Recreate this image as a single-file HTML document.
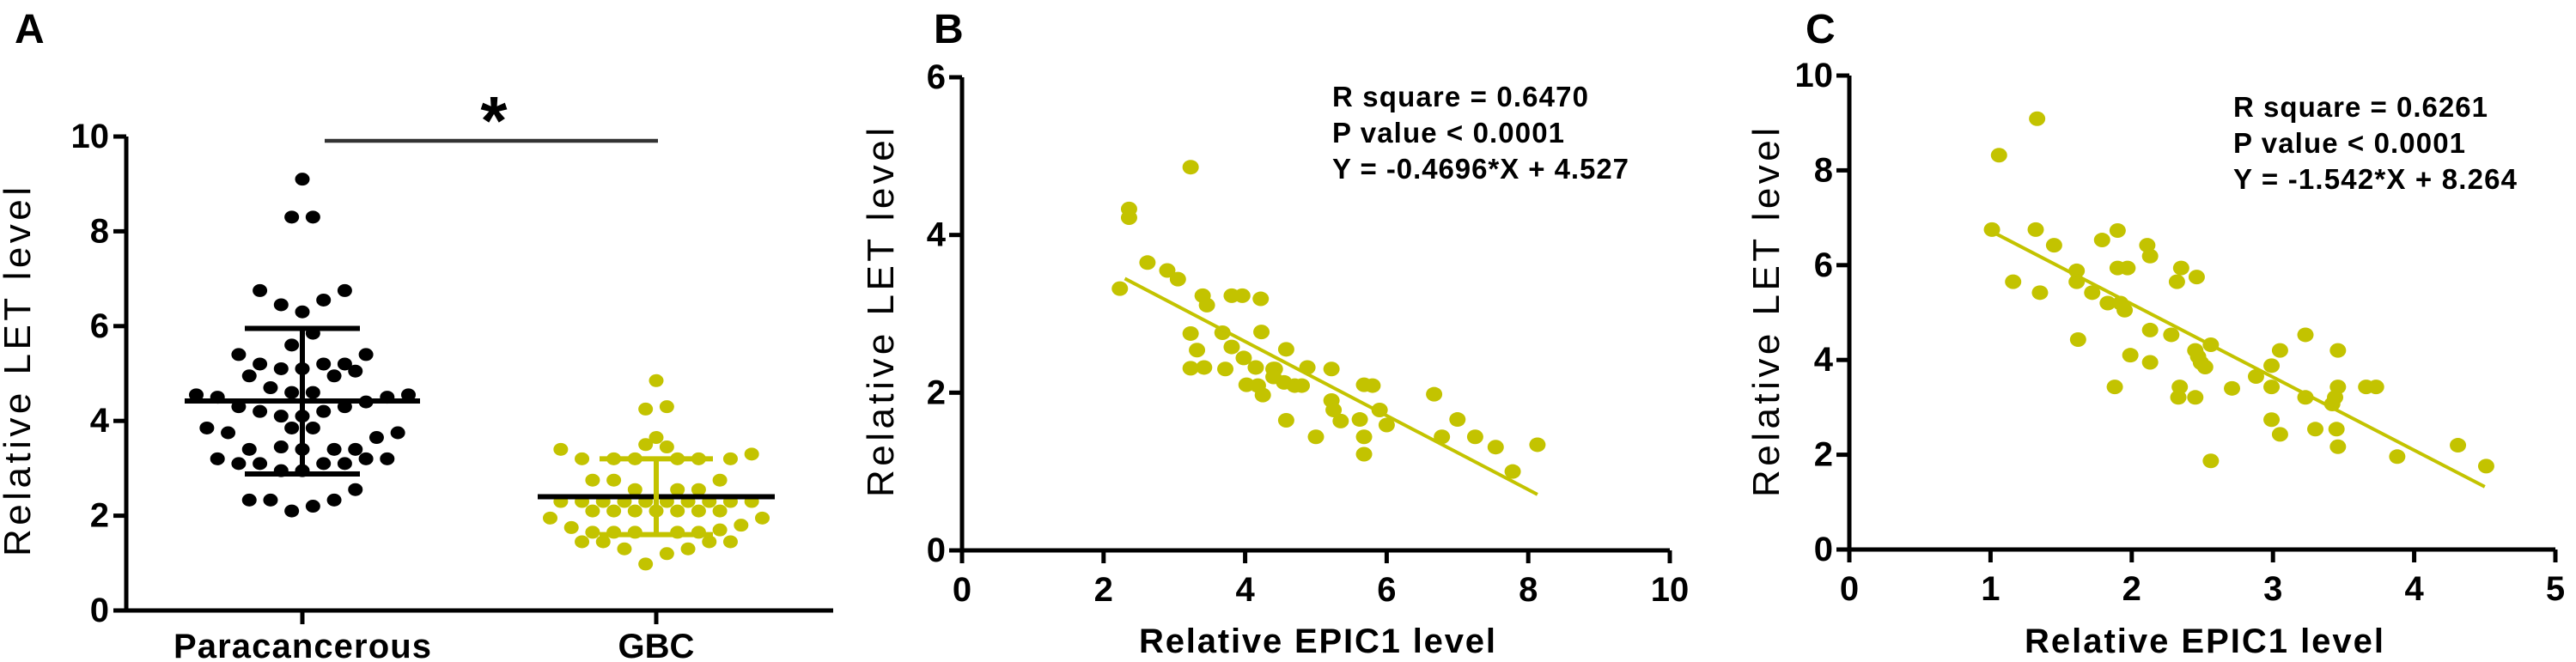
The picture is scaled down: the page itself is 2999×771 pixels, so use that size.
<!DOCTYPE html>
<html><head><meta charset="utf-8"><style>
html,body{margin:0;padding:0;background:#fff;}
svg{display:block;font-family:"Liberation Sans",Arial,sans-serif;}
</style></head><body>
<svg id="fig" width="2999" height="771" viewBox="0 0 2999 771" xmlns="http://www.w3.org/2000/svg"></svg>
<script>
// ---------- Panel A data ----------
const catsA = ["Paracancerous", "GBC"];
const paraVals = [9.1,8.3,8.3,6.75,6.75,6.45,6.55,6.3,5.85,5.6,5.4,5.4,5.2,5.1,5.1,5.2,5.2,4.95,4.95,5.05,4.7,4.6,4.6,4.55,4.5,4.5,4.55,4.3,4.2,4.1,4.1,4.2,4.3,4.4,3.85,3.75,3.85,3.85,3.65,3.75,3.4,3.45,3.4,3.4,3.4,3.2,3.1,3.1,2.95,2.95,3.1,3.1,3.2,3.2,2.55,2.33,2.33,2.33,2.2,2.1];
const paraJit = [0,-0.5,0.5,-2,2,-1,1,0,0.5,-0.5,-3,3,-2,-1,0,1,2,-2.5,1.5,2.5,-1.5,-0.5,0.5,-5,-4,4,5,-3,-2,-1,0,1,2,3,-4.5,-3.5,-0.5,0.5,3.5,4.5,-2.5,-1,0,1.5,2.5,-4,-3,-2,-1,0,1,2,3,4,2.5,-2.5,-1.5,1.5,0.5,-0.5];
const gbcVals = [4.85,4.25,4.3,3.65,3.5,3.45,3.4,3.3,3.2,3.2,3.2,3.2,3.2,3.2,2.75,2.75,2.75,2.55,2.55,2.55,2.3,2.3,2.3,2.3,2.3,2.3,2.3,2.3,2.3,2.3,1.95,1.95,2.1,2.1,2.1,2.1,2.1,2.1,2.1,1.75,1.8,1.65,1.65,1.65,1.65,1.65,1.7,1.45,1.45,1.45,1.45,1.3,1.3,1.2,0.98];
const gbcJit = [0,-0.5,0.5,0,-0.5,0.5,-4.5,4.5,-3.5,-2,-1,1,2,3.5,-3,-2,3,-1,1,2,-4.5,-3.5,-2.5,-1.5,-0.5,0.5,1.5,2.5,3.5,4.5,-5,5,-3,-2,-1,0,1,2,3,-4,4,-3,-2,-1,1,2,3,-3.5,-2.5,2.5,3.5,-1.5,1.5,0.5,-0.5];
const meanA = [4.42, 2.4];
const sdHiA = [5.95, 3.2];
const sdLoA = [2.88, 1.6];
const yTicksA = [0,2,4,6,8,10];

// ---------- Panel B data ----------
const bx = [2.23,2.36,2.36,2.62,2.9,3.05,3.23,3.4,3.46,3.23,3.32,3.23,3.42,3.68,3.81,3.72,3.81,3.96,4.22,3.98,4.02,4.15,4.23,4.18,4.25,4.4,4.42,4.4,4.58,4.55,4.7,4.8,4.58,4.88,5.0,5.22,5.22,5.25,5.35,5.62,5.68,5.8,5.68,5.68,5.9,6.0,6.67,6.78,7.0,7.25,7.54,7.78,8.13];
const by = [3.32,4.33,4.22,3.65,3.55,3.44,4.86,3.23,3.11,2.75,2.54,2.31,2.32,2.76,2.58,2.3,3.23,3.23,3.19,2.44,2.1,2.32,2.77,2.09,1.97,2.3,2.3,2.2,2.55,2.13,2.09,2.09,1.65,2.32,1.44,2.3,1.9,1.78,1.64,1.66,2.1,2.09,1.44,1.22,1.78,1.59,1.98,1.44,1.66,1.44,1.31,1.0,1.34];
const fitB = [-0.4696, 4.527];
const fitBRange = [2.3, 8.13];
const xTicksB = [0,2,4,6,8,10];
const yTicksB = [0,2,4,6];
const statsB = ["R square = 0.6470","P value < 0.0001","Y = -0.4696*X + 4.527"];

// ---------- Panel C data ----------
const cx = [1.01,1.06,1.16,1.33,1.32,1.35,1.45,1.62,1.61,1.61,1.72,1.79,1.83,1.92,1.88,1.9,1.9,1.97,1.95,1.99,2.11,2.13,2.13,2.13,2.28,2.32,2.35,2.34,2.33,2.46,2.45,2.47,2.49,2.52,2.45,2.56,2.56,2.71,2.88,2.99,2.99,2.99,3.05,3.05,3.23,3.23,3.3,3.46,3.46,3.44,3.42,3.45,3.46,3.66,3.73,3.88,4.31,4.51];
const cy = [6.75,8.32,5.65,9.09,6.75,5.42,6.42,4.43,5.88,5.65,5.42,6.53,5.2,5.2,3.43,6.73,5.94,5.94,5.05,4.1,6.42,6.19,4.63,3.95,4.53,5.65,5.94,3.43,3.21,5.75,4.2,4.07,3.94,3.85,3.21,4.32,1.87,3.4,3.65,3.88,3.43,2.74,4.2,2.43,4.53,3.21,2.54,4.2,3.43,3.21,3.07,2.54,2.17,3.43,3.43,1.96,2.2,1.76];
const fitC = [-1.542, 8.264];
const fitCRange = [1.0, 4.5];
const xTicksC = [0,1,2,3,4,5];
const yTicksC = [0,2,4,6,8,10];
const statsC = ["R square = 0.6261","P value < 0.0001","Y = -1.542*X + 8.264"];

const NS = "http://www.w3.org/2000/svg";
const svg = document.getElementById("fig");
function el(tag, attrs, parent, txt){
  const e = document.createElementNS(NS, tag);
  for (const k in attrs) e.setAttribute(k, attrs[k]);
  if (txt !== undefined) e.textContent = txt;
  (parent || svg).appendChild(e);
  return e;
}
const YEL = "#c3c300";
function lin(d0,d1,r0,r1){ return v => r0 + (v-d0)/(d1-d0)*(r1-r0); }

// ===== Panel A =====
const gA = el("g", {});


const yA = lin(0,10,711,159);
const xA = i => [352,764][i];
const jitA = 24.7;
let t;
t = el("text",{x:17,y:50,"font-size":48,"font-weight":"bold"},gA,"A");


let ax = el("line",{x1:147,y1:159,x2:147,y2:711,stroke:"#000","stroke-width":5},gA);


ax = el("line",{x1:145,y1:711,x2:970,y2:711,stroke:"#000","stroke-width":5},gA);


yTicksA.forEach(v=>{
  const tk = el("line",{x1:132,y1:yA(v),x2:147,y2:yA(v),stroke:"#000","stroke-width":5},gA);
  
  
  const tl = el("text",{x:127,y:yA(v),"font-size":40,"font-weight":"bold","text-anchor":"end","dominant-baseline":"central"},gA,String(v));
  
  
});
catsA.forEach((c,i)=>{
  const tk = el("line",{x1:xA(i),y1:711,x2:xA(i),y2:727,stroke:"#000","stroke-width":5},gA);
  
  
  const tl = el("text",{x:xA(i),y:766,"font-size":40,"font-weight":"bold","text-anchor":"middle"},gA,c);
  
  
  if(i===0) tl.setAttribute("textLength",300);
});
t = el("text",{transform:"translate(35,433) rotate(-90)","font-size":44,"text-anchor":"middle",textLength:430},gA,"Relative LET level");


[[paraVals,paraJit,"#000"],[gbcVals,gbcJit,YEL]].forEach((s,i)=>{
  s[0].forEach((v,j)=>{
    const d = el("ellipse",{cx:xA(i)+s[1][j]*jitA,cy:yA(v),rx:8.5,ry:7.5,fill:s[2]},gA);
    
    
  });
});
catsA.forEach((c,i)=>{
  const half = [137,138][i], cap=[67,66][i];
  const m = el("line",{x1:xA(i)-half,y1:yA(meanA[i]),x2:xA(i)+half,y2:yA(meanA[i]),stroke:"#000","stroke-width":6},gA);
  
  
  const col = i===0?"#000":YEL;
  const v = el("line",{x1:xA(i),y1:yA(sdHiA[i]),x2:xA(i),y2:yA(sdLoA[i]),stroke:col,"stroke-width":6},gA);
  
  
  [sdHiA[i],sdLoA[i]].forEach(sv=>{
    const cp = el("line",{x1:xA(i)-cap,y1:yA(sv),x2:xA(i)+cap,y2:yA(sv),stroke:col,"stroke-width":6},gA);
    
    
  });
});
t = el("line",{x1:378,y1:164,x2:766,y2:164,stroke:"#333","stroke-width":4.5},gA);


t = el("text",{x:575,y:168,"font-size":80,"font-weight":"bold","text-anchor":"middle"},gA,"*");



// ===== Scatter panels =====
function scatter(cfg){
  const g = el("g",{});
  
  
  const X = lin(cfg.xd[0],cfg.xd[1],cfg.x0,cfg.x1);
  const Y = lin(cfg.yd[0],cfg.yd[1],cfg.y0,cfg.y1);
  let e = el("text",{x:cfg.labX,y:50,"font-size":48,"font-weight":"bold"},g,cfg.letter);
  
  
  e = el("line",{x1:cfg.x0,y1:cfg.y1,x2:cfg.x0,y2:cfg.y0+2,stroke:"#000","stroke-width":5},g);
  
  
  e = el("line",{x1:cfg.x0-2,y1:cfg.y0,x2:cfg.x1,y2:cfg.y0,stroke:"#000","stroke-width":5},g);
  
  
  cfg.yt.forEach(v=>{
    const tk = el("line",{x1:cfg.x0-15,y1:Y(v),x2:cfg.x0,y2:Y(v),stroke:"#000","stroke-width":5},g);
    
    
    const tl = el("text",{x:cfg.x0-19,y:Y(v),"font-size":40,"font-weight":"bold","text-anchor":"end","dominant-baseline":"central"},g,String(v));
    
    
  });
  cfg.xt.forEach(v=>{
    const tk = el("line",{x1:X(v),y1:cfg.y0,x2:X(v),y2:cfg.y0+15,stroke:"#000","stroke-width":5},g);
    
    
    const tl = el("text",{x:X(v),y:cfg.y0+59,"font-size":40,"font-weight":"bold","text-anchor":"middle"},g,String(v));
    
    
  });
  e = el("text",{x:cfg.xtX,y:760,"font-size":40,"font-weight":"bold",textLength:cfg.xtW},g,"Relative EPIC1 level");
  
  
  e = el("text",{transform:`translate(${cfg.ytX},364) rotate(-90)`,"font-size":44,"text-anchor":"middle",textLength:430},g,"Relative LET level");
  
  
  cfg.px.forEach((xv,i)=>{
    const d = el("ellipse",{cx:X(xv),cy:Y(cfg.py[i]),rx:9.5,ry:8.5,fill:YEL},g);
    
    
  });
  const f = x => cfg.fit[0]*x + cfg.fit[1];
  e = el("line",{x1:X(cfg.fr[0]),y1:Y(f(cfg.fr[0])),x2:X(cfg.fr[1]),y2:Y(f(cfg.fr[1])),stroke:YEL,"stroke-width":4},g);
  
  
  cfg.stats.forEach((s,i)=>{
    const tx = el("text",{x:cfg.stX,y:cfg.stY+i*42,"font-size":33,"font-weight":"bold",textLength:cfg.stW[i]},g,s);
    
    
  });
}
scatter({name:"panel-b",letter:"B",labX:1087,xd:[0,10],yd:[0,6],x0:1120,x1:1944,y0:641,y1:90,
  xt:xTicksB,yt:yTicksB,px:bx,py:by,fit:fitB,fr:fitBRange,stats:statsB,
  stX:1551,stY:124,stW:[298,270,345],xtX:1326,xtW:415,ytX:1040});
scatter({name:"panel-c",letter:"C",labX:2102,xd:[0,5],yd:[0,10],x0:2153,x1:2975,y0:640,y1:88,
  xt:xTicksC,yt:yTicksC,px:cx,py:cy,fit:fitC,fr:fitCRange,stats:statsC,
  stX:2600,stY:136,stW:[296,270,330],xtX:2357,xtW:418,ytX:2071});
</script>
</body></html>
